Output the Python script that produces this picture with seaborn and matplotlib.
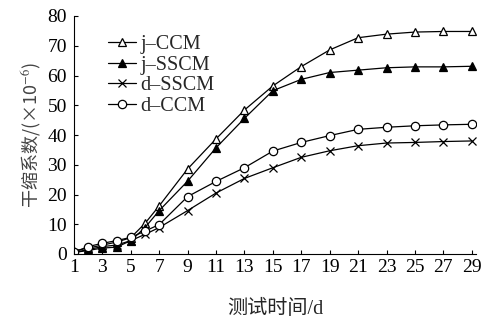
import matplotlib
matplotlib.use("Agg")
import matplotlib.pyplot as plt
import seaborn as sns
import pandas as pd

days = [1, 2, 3, 4, 5, 6, 7, 9, 11, 13, 15, 17, 19, 21, 23, 25, 27, 29]
j_ccm = [1.0, 2.0, 3.0, 4.0, 5.5, 10.3, 16.2, 28.6, 38.7, 48.4, 56.5, 63.0, 68.6, 72.7, 73.9, 74.6, 74.8, 74.8]
j_sscm = [0.5, 1.2, 2.0, 2.3, 4.5, 8.9, 14.6, 24.5, 35.7, 45.6, 54.9, 58.7, 61.0, 61.8, 62.6, 62.9, 62.9, 63.1]
d_sscm = [0.5, 1.5, 2.5, 3.0, 4.5, 6.6, 8.9, 14.6, 20.5, 25.4, 29.0, 32.5, 34.7, 36.4, 37.3, 37.5, 37.8, 38.0]
d_ccm = [0.6, 2.5, 3.6, 4.5, 5.6, 7.7, 9.9, 19.3, 24.4, 29.0, 34.6, 37.5, 39.8, 41.9, 42.6, 43.1, 43.4, 43.6]
series_names = ["j–CCM", "j–SSCM", "d–SSCM", "d–CCM"]
xticks = list(range(1, 30, 2))
yticks = list(range(0, 81, 10))

sns.set_style("ticks")
plt.rcParams['font.family'] = ['Liberation Serif', 'Noto Sans CJK SC', 'DejaVu Sans']
plt.rcParams['mathtext.fontset'] = 'stix'

fig = plt.figure(figsize=(4.85, 3.23), dpi=100)
ax = fig.add_axes([74/485, (323-254)/323, (476-74)/485, (254-16)/323])

styles = [
    dict(marker='^', mfc='white'),
    dict(marker='^', mfc='black'),
    dict(marker='x', mfc='black'),
    dict(marker='o', mfc='white'),
]
for name, vals, st in zip(series_names, [j_ccm, j_sscm, d_sscm, d_ccm], styles):
    df = pd.DataFrame({"day": days, "val": vals})
    sns.lineplot(data=df, x="day", y="val", ax=ax, color='black', linewidth=0.9,
                 marker=st['marker'], markerfacecolor=st['mfc'], markeredgecolor='black',
                 markeredgewidth=0.9, markersize=6, label=name)

ax.set_xlim(1, 29.3)
ax.set_ylim(0, 80)
ax.set_xticks(xticks)
ax.set_yticks(yticks)
ax.tick_params(direction='in', length=3, width=0.8, labelsize=14, colors='black')
ax.tick_params(axis='y', pad=5)
for s in ['top', 'right']:
    ax.spines[s].set_visible(False)
for s in ['left', 'bottom']:
    ax.spines[s].set_linewidth(0.8)
    ax.spines[s].set_color('black')

ax.set_xlabel("测试时间/d", fontsize=14.5, labelpad=17,
              family=['Liberation Serif', 'Noto Sans CJK SC'])
ax.set_ylabel("干缩系数/(×10$^{-6}$)", fontsize=13, labelpad=3,
              family=['Noto Sans CJK SC', 'DejaVu Sans'], color='#444444')

leg = ax.legend(loc='upper left', bbox_to_anchor=(0.065, 0.955), frameon=False,
                fontsize=14.5, handlelength=1.4, handletextpad=0.2,
                labelspacing=0.08, borderaxespad=0)

fig.savefig("out.png", dpi=100)
